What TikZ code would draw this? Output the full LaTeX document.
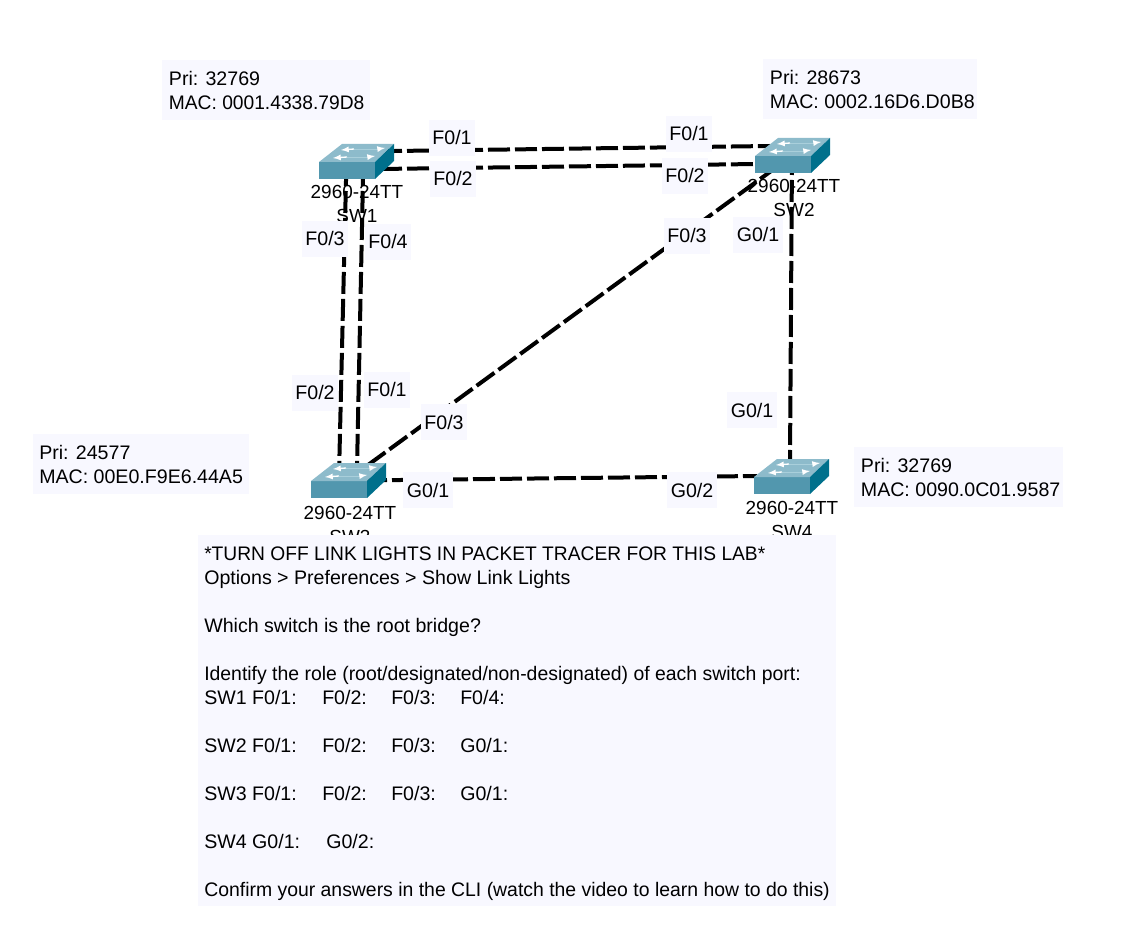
\documentclass[tikz,border=0pt]{standalone}
\usepackage{fontspec}
\setmainfont{Liberation Sans}
\definecolor{boxbg}{HTML}{F8F8FF}
\definecolor{swtop}{HTML}{8DBBCB}
\definecolor{swfront}{HTML}{5297AE}
\definecolor{swside}{HTML}{00708C}
\definecolor{swline}{HTML}{A9CFDB}
\newcommand{\portrow}[5]{\makebox[#5][l]{#1}\makebox[51.75pt][l]{#2}\makebox[51.75pt][l]{#3}#4}
\tikzset{
    pics/switchicon/.style={code={
        \fill [swfront] (0,18) -- (56,18) -- (56,35) -- (0,35) -- cycle;
        \fill [swtop] (0,18) -- (23,0) -- (75,0) -- (56,18) -- cycle;
        \fill [swside] (56,18) -- (75,0) -- (75,17) -- (56,35) -- cycle;
        \draw [swline, line width=0.7pt] (34,5) -- (59,5);
        \draw [swline, line width=0.7pt] (28,13) -- (49,13);
        \draw [white, line width=1pt, -latex] (35,5) -- (22,6);
        \draw [white, line width=1pt, -latex] (59,5) -- (66,4);
        \draw [white, line width=1pt, -latex] (28,13) -- (14,14);
        \draw [white, line width=1pt, -latex] (49,13) -- (56,12);
    }}
}
\begin{document}
\begin{tikzpicture}[x=0.75pt,y=-0.75pt]
    \tikzstyle{every node}+=[font=\fontsize{14.7}{18}\selectfont]
    \tikzstyle{link}=[black, line width=3pt, dash pattern=on 16.5pt off 3.75pt]
    \tikzstyle{portlabel}=[fill=boxbg, inner xsep=2.5pt, inner ysep=0pt, minimum height=27pt, text height=10.5pt, text depth=0pt]
    \tikzstyle{swname}=[inner sep=0pt, text height=10.5pt, text depth=0pt, font=\fontsize{14.2}{18}\selectfont]
    \tikzstyle{infobox}=[fill=boxbg, inner sep=0pt, anchor=north west, align=flush left]
    \useasboundingbox (0,0) rectangle (1134,944);
    % link ends
    \coordinate (sw1p1) at (380,151.2);
    \coordinate (sw1p2) at (380,169);
    \coordinate (sw1p3) at (346.4,164);
    \coordinate (sw1p4) at (363.3,164);
    \coordinate (sw2p1) at (770,146);
    \coordinate (sw2p2) at (757,164);
    \coordinate (sw2p3) at (778,166);
    \coordinate (sw2g1) at (792,153);
    \coordinate (sw3p1) at (357,468);
    \coordinate (sw3p2) at (339,475);
    \coordinate (sw3p3) at (368,465);
    \coordinate (sw3g1) at (365,480.4);
    \coordinate (sw4g1) at (790,462);
    \coordinate (sw4g2) at (757,476);
    % links
    \draw [link] (sw1p1) -- (sw2p1);
    \draw [link] (sw1p2) -- (sw2p2);
    \draw [link] (sw1p3) -- (sw3p2);
    \draw [link] (sw1p4) -- (sw3p1);
    \draw [link] (sw2p3) -- (sw3p3);
    \draw [link] (sw2g1) -- (sw4g1);
    \draw [link] (sw3g1) -- (sw4g2);
    % switches
    \pic at (319,144) {switchicon};
    \pic at (755,138) {switchicon};
    \pic at (311,463) {switchicon};
    \pic at (754,459) {switchicon};
    \node [swname] (sw1model) at (357,192) {2960-24TT};
    \node [swname] (sw1name) at (357,216) {SW1};
    \node [swname] (sw2model) at (794,186) {2960-24TT};
    \node [swname] (sw2name) at (794,210) {SW2};
    \node [swname] (sw3model) at (350,512) {2960-24TT};
    \node [swname] (sw3name) at (350,536) {SW3};
    \node [swname] (sw4model) at (792,507) {2960-24TT};
    \node [swname] (sw4name) at (792,531) {SW4};
    % port labels
    \node [portlabel] (l1p1) at (452,138) {F0/1};
    \node [portlabel] (l1p2) at (453,179) {F0/2};
    \node [portlabel] (l1p3) at (325,239) {F0/3};
    \node [portlabel] (l1p4) at (388,242) {F0/4};
    \node [portlabel] (l2p1) at (689,134) {F0/1};
    \node [portlabel] (l2p2) at (685,176) {F0/2};
    \node [portlabel] (l2p3) at (687,236) {F0/3};
    \node [portlabel] (l2g1) at (758,235) {G0/1};
    \node [portlabel] (l3p2) at (315,393) {F0/2};
    \node [portlabel] (l3p1) at (387,390) {F0/1};
    \node [portlabel] (l3p3) at (444,422) {F0/3};
    \node [portlabel] (l3g1) at (428,490) {G0/1};
    \node [portlabel] (l4g2) at (692,490) {G0/2};
    \node [portlabel] (l4g1) at (752,410) {G0/1};
    % priority notes
    \node [infobox, text width=156pt, minimum height=45pt] (sw1info) at (162,60) {\hspace*{5pt}Pri: 32769\\\hspace*{5pt}\scalebox{0.98}[1]{MAC: 0001.4338.79D8}};
    \node [infobox, text width=160.5pt, minimum height=45pt] (sw2info) at (763,59) {\hspace*{5pt}Pri: 28673\\\hspace*{5pt}MAC: 0002.16D6.D0B8};
    \node [infobox, text width=162pt, minimum height=45pt] (sw3info) at (33,434) {\hspace*{4.5pt}Pri: 24577\\\hspace*{4.5pt}MAC: 00E0.F9E6.44A5};
    \node [infobox, text width=156.75pt, minimum height=45pt] (sw4info) at (854,447) {\hspace*{5pt}Pri: 32769\\\hspace*{5pt}MAC: 0090.0C01.9587};
    % lab text
    \node [infobox, text width=478.5pt, minimum height=278pt] (labtext) at (198,535) {\rule{0pt}{15.3pt}\hspace*{4.5pt}\scalebox{0.98}[1]{*TURN OFF LINK LIGHTS IN PACKET TRACER FOR THIS LAB*}\\
    \hspace*{4.5pt}Options > Preferences > Show Link Lights\\[18pt]
    \hspace*{4.5pt}Which switch is the root bridge?\\[18pt]
    \hspace*{4.5pt}\scalebox{0.99}[1]{Identify the role (root/designated/non-designated) of each switch port:}\\
    \hspace*{4.5pt}\portrow{SW1 F0/1:}{F0/2:}{F0/3:}{F0/4:}{88.5pt}\\[18pt]
    \hspace*{4.5pt}\portrow{SW2 F0/1:}{F0/2:}{F0/3:}{G0/1:}{88.5pt}\\[18pt]
    \hspace*{4.5pt}\portrow{SW3 F0/1:}{F0/2:}{F0/3:}{G0/1:}{88.5pt}\\[18pt]
    \hspace*{4.5pt}\makebox[91.5pt][l]{SW4 G0/1:}G0/2:\\[18pt]
    \hspace*{4.5pt}\scalebox{0.99}[1]{Confirm your answers in the CLI (watch the video to learn how to do this)}};
\end{tikzpicture}
\end{document}
